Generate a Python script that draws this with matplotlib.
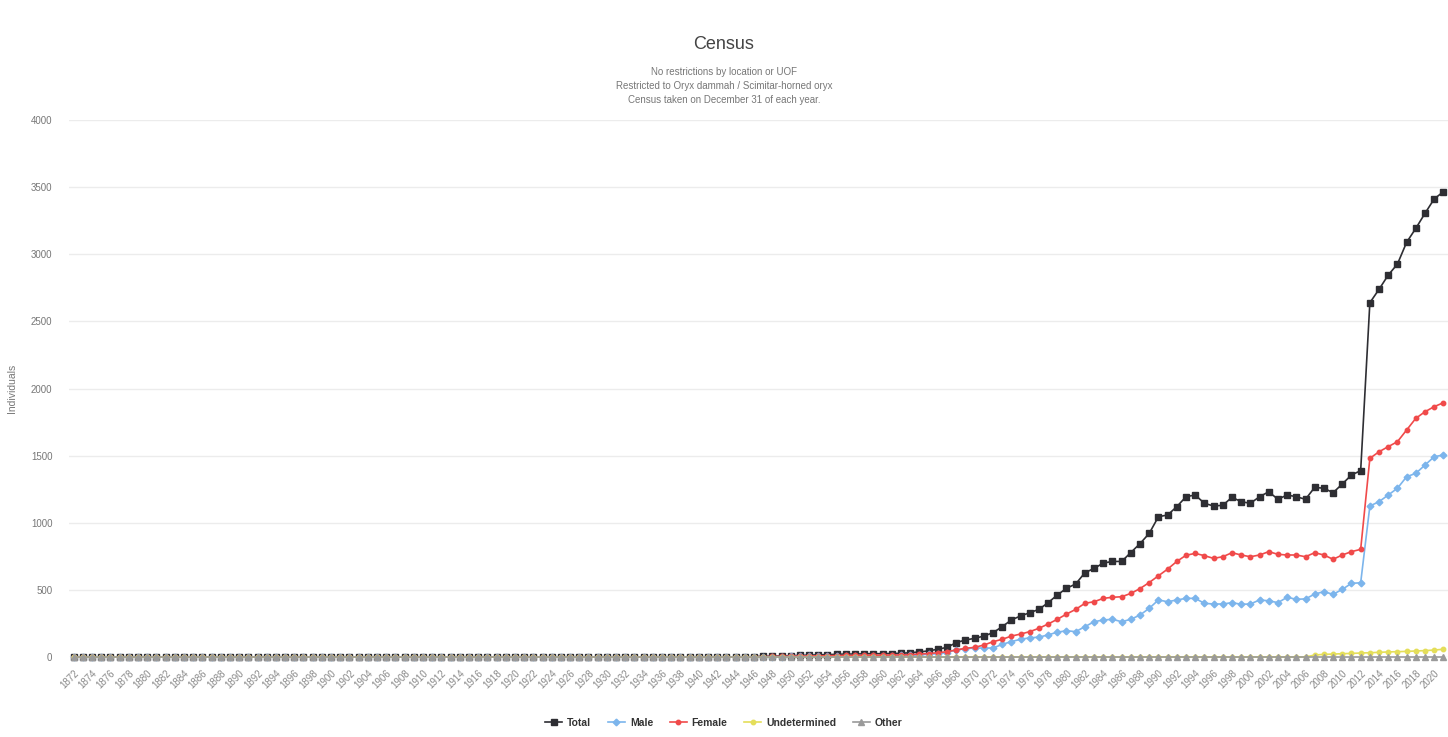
import matplotlib
matplotlib.use("Agg")
import matplotlib.pyplot as plt

# census years (one category per year)
years = list(range(1872, 2022))

# 1872-1945: nothing recorded yet
early_zero = [0, 0, 0, 0, 0, 0, 0, 0, 0, 0,
              0, 0, 0, 0, 0, 0, 0, 0, 0, 0,
              0, 0, 0, 0, 0, 0, 0, 0, 0, 0,
              0, 0, 0, 0, 0, 0, 0, 0, 0, 0,
              0, 0, 0, 0, 0, 0, 0, 0, 0, 0,
              0, 0, 0, 0, 0, 0, 0, 0, 0, 0,
              0, 0, 0, 0, 0, 0, 0, 0, 0, 0,
              0, 0, 0, 0]

# 1946-2021
total_late = [3, 5, 6, 8, 10, 12, 14, 16, 18, 20,
              22, 22, 24, 25, 25, 26, 28, 32, 38, 46,
              58, 72, 107, 127, 139, 156, 181, 226, 276, 306,
              330, 355, 405, 462, 512, 544, 628, 660, 700, 712,
              712, 778, 845, 921, 1045, 1058, 1120, 1194, 1207, 1145,
              1125, 1130, 1190, 1157, 1145, 1194, 1231, 1175, 1207, 1194,
              1175, 1264, 1257, 1224, 1289, 1356, 1388, 2639, 2739, 2845,
              2927, 3089, 3193, 3305, 3412, 3466]
male_late = [1, 2, 2, 3, 4, 5, 6, 7, 8, 9,
             10, 10, 11, 11, 11, 11, 12, 14, 16, 20,
             26, 32, 55, 62, 67, 67, 67, 94, 115, 132,
             143, 148, 165, 185, 196, 189, 226, 263, 276, 281,
             263, 281, 313, 363, 425, 412, 425, 437, 437, 400,
             395, 395, 405, 393, 395, 425, 419, 405, 445, 430,
             433, 469, 487, 467, 504, 549, 553, 1125, 1157, 1207,
             1257, 1343, 1368, 1430, 1492, 1505]
female_late = [2, 3, 4, 5, 6, 7, 8, 9, 10, 11,
               12, 12, 13, 14, 14, 15, 16, 18, 22, 26,
               32, 40, 52, 65, 72, 89, 114, 132, 156, 171,
               189, 214, 246, 281, 320, 355, 400, 412, 437, 445,
               449, 474, 510, 555, 605, 655, 712, 758, 772, 755,
               735, 747, 777, 760, 747, 760, 785, 765, 760, 760,
               747, 777, 760, 728, 760, 785, 802, 1480, 1529, 1567,
               1604, 1691, 1778, 1827, 1865, 1894]
undet_late = [0, 0, 0, 0, 0, 0, 0, 0, 0, 0,
              0, 0, 0, 0, 0, 0, 0, 0, 0, 0,
              0, 0, 0, 0, 0, 0, 0, 0, 0, 0,
              0, 0, 0, 0, 0, 0, 0, 0, 0, 0,
              0, 0, 0, 0, 0, 0, 0, 0, 0, 0,
              0, 0, 0, 0, 0, 0, 0, 0, 0, 0,
              0, 15, 20, 22, 25, 27, 30, 32, 35, 38,
              40, 42, 45, 48, 52, 58]
other_late = [0, 0, 0, 0, 0, 0, 0, 0, 0, 0,
              0, 0, 0, 0, 0, 0, 0, 0, 0, 0,
              0, 0, 0, 0, 0, 0, 0, 0, 0, 0,
              0, 0, 0, 0, 0, 0, 0, 0, 0, 0,
              0, 0, 0, 0, 0, 0, 0, 0, 0, 0,
              0, 0, 0, 0, 0, 0, 0, 0, 0, 0,
              0, 0, 0, 0, 0, 0, 0, 0, 0, 0,
              0, 0, 0, 0, 0, 0]

total = early_zero + total_late
male = early_zero + male_late
female = early_zero + female_late
undetermined = early_zero + undet_late
other = early_zero + other_late

series = [
    ("Total", total, "#2e2e33", "s", 4.6),
    ("Male", male, "#7cb5ec", "D", 3.4),
    ("Female", female, "#f04a4a", "o", 3.2),
    ("Undetermined", undetermined, "#e4de5a", "o", 3.2),
    ("Other", other, "#9a9a9a", "^", 3.8),
]

title = "Census"
subtitle = ["No restrictions by location or UOF",
            "Restricted to Oryx dammah / Scimitar-horned oryx",
            "Census taken on December 31 of each year."]

plt.rcParams['font.family'] = ['Liberation Sans', 'DejaVu Sans']

fig = plt.figure(figsize=(14.48, 7.37), dpi=100)
ax = fig.add_axes([0.0477, 0.1085, 0.9523, 0.7287])

for name, vals, col, mk, ms in series:
    ax.plot(years, vals, color=col, lw=1.2, marker=mk, markersize=ms,
            label=name, clip_on=False, zorder=3)

ax.set_xlim(1871.5, 2021.5)
ax.set_ylim(0, 4000)
ax.set_yticks(range(0, 4001, 500))
ax.yaxis.grid(True, color="#ececec", lw=1)
ax.set_axisbelow(True)
for s in ax.spines.values():
    s.set_visible(False)
ax.tick_params(axis="y", length=0, labelsize=7, colors="#777777", pad=12)

xt = years[::2]
ax.set_xticks(xt)
ax.set_xticklabels([str(y) for y in xt], rotation=45, ha="right",
                   va="top", rotation_mode="anchor", fontsize=7,
                   color="#888888")
ax.tick_params(axis="x", length=0, pad=8)

ax.set_ylabel("Individuals", fontsize=7.5, color="#777777", labelpad=10)

fig.text(0.5, 0.94, title, ha="center", va="center", fontsize=13, color="#444444")
for i, line in enumerate(subtitle):
    fig.text(0.5, 0.902 - i * 0.019, line, ha="center", va="center",
             fontsize=7, color="#777777")

leg = fig.legend(loc="lower center", bbox_to_anchor=(0.5, 0.0), ncol=5,
                 frameon=False, fontsize=7.5, handlelength=1.6,
                 columnspacing=1.6, handletextpad=0.5)
for t in leg.get_texts():
    t.set_color("#333333")
    t.set_fontweight("bold")

fig.savefig("out.png", dpi=100)
